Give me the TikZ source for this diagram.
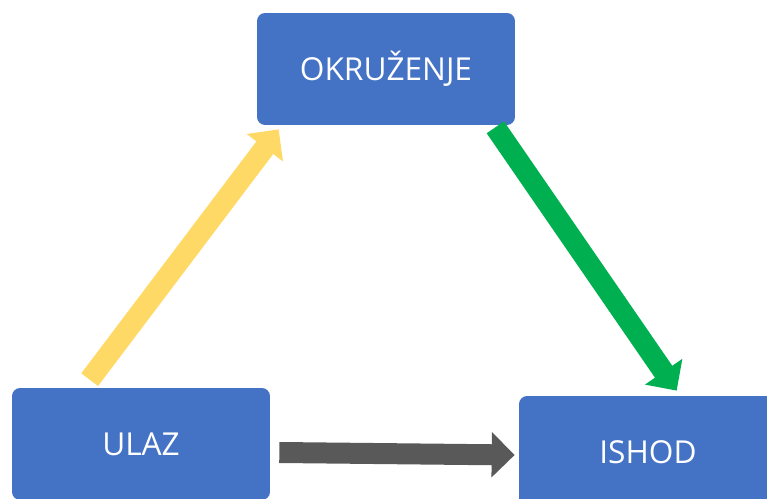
\documentclass[tikz,border=0pt]{standalone}
\usepackage{fontspec}
\setmainfont{Open Sans}
\usetikzlibrary{arrows.meta,calc}
\definecolor{boxBlue}{HTML}{4472C4}
\definecolor{flowYellow}{HTML}{FFD966}
\definecolor{flowGreen}{HTML}{00B050}
\definecolor{flowGray}{HTML}{595959}

\begin{document}
\begin{tikzpicture}[
    x=0.02cm, y=-0.02cm,
    box/.style={rectangle, fill=boxBlue, rounded corners=0.16cm, minimum width=5.16cm, minimum height=2.24cm, align=center, text=white, font=\fontsize{18}{21}\selectfont},
    flow/.style={line width=0.42cm, -{Triangle[length=0.46cm, width=0.88cm]}}
]
\useasboundingbox (0,0) rectangle (767,499);
\clip (0,0) rectangle (767,499);

% Boxes
\node[box] (okr) at (386,69) {OKRUŽENJE};
\node[box] (ulaz) at (141,444) {ULAZ};
\node[box] (ishod) at (648,452) {ISHOD};

% Arrow ends
\coordinate (ulazOut) at ($(ulaz.north west)+(78,-8)$);
\coordinate (okrIn) at ($(okr.south west)+(22,4)$);
\coordinate (okrOut) at ($(okr.south east)+(-20,2)$);
\coordinate (ishodIn) at ($(ishod.north west)+(158,-5)$);
\coordinate (ulazRight) at ($(ulaz.east)+(9,8.5)$);
\coordinate (ishodLeft) at ($(ishod.west)+(-4,3)$);

% Connections
\draw[flow, flowYellow] (ulazOut) -- (okrIn);
\draw[flow, flowGreen] (okrOut) -- (ishodIn);
\draw[flow, flowGray] (ulazRight) -- (ishodLeft);

\end{tikzpicture}
\end{document}
